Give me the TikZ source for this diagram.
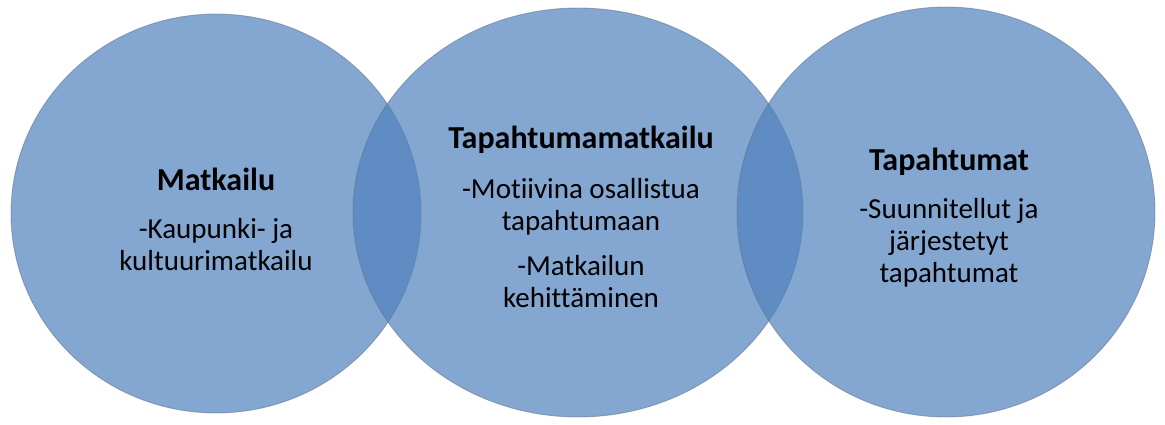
\documentclass[tikz,border=0pt]{standalone}
\usepackage{fontspec}
\setmainfont{Carlito}[Ligatures=NoCommon]
\usepackage{tikz}
\usetikzlibrary{positioning,shapes}
\definecolor{vennblue}{RGB}{79,129,189}
\definecolor{vennrim}{RGB}{95,110,130}
\tikzset{main node/.style={ellipse,draw=vennrim,draw opacity=0.5,line width=0.9pt,
    fill=vennblue,fill opacity=0.7,inner sep=0pt},
  head/.style={anchor=base,font=\bfseries\fontsize{32}{34}\selectfont},
  body/.style={anchor=base,align=center,font=\fontsize{29}{32}\selectfont},
}
\begin{document}
\begin{tikzpicture}[x=1pt,y=-1pt]
		\useasboundingbox (0,0) rectangle (1165,425);
		\node[main node,minimum width=410pt,minimum height=399pt] (1) at (216,213.5) {};
		\node[main node,minimum width=450pt,minimum height=409pt] (2) at (578,212.5) {};
		\node[main node,minimum width=418pt,minimum height=410pt] (3) at (946,212) {};
		
		% base anchor sits on the last line
		\node[head] (t1) at (216,190) {Matkailu};
		\node[body] (b1) at (216,270) {-Kaupunki- ja\\kultuurimatkailu};
		
		\node[head] (t2) at (581,149) {Tapahtumamatkailu};
		\node[body] (b2) at (581,307) {-Motiivina osallistua\\tapahtumaan\\[13pt]-Matkailun\\kehittäminen};
		
		\node[head] (t3) at (949,171) {Tapahtumat};
		\node[body] (b3) at (949,282) {-Suunnitellut ja\\järjestetyt\\tapahtumat};
\end{tikzpicture}
\end{document}
